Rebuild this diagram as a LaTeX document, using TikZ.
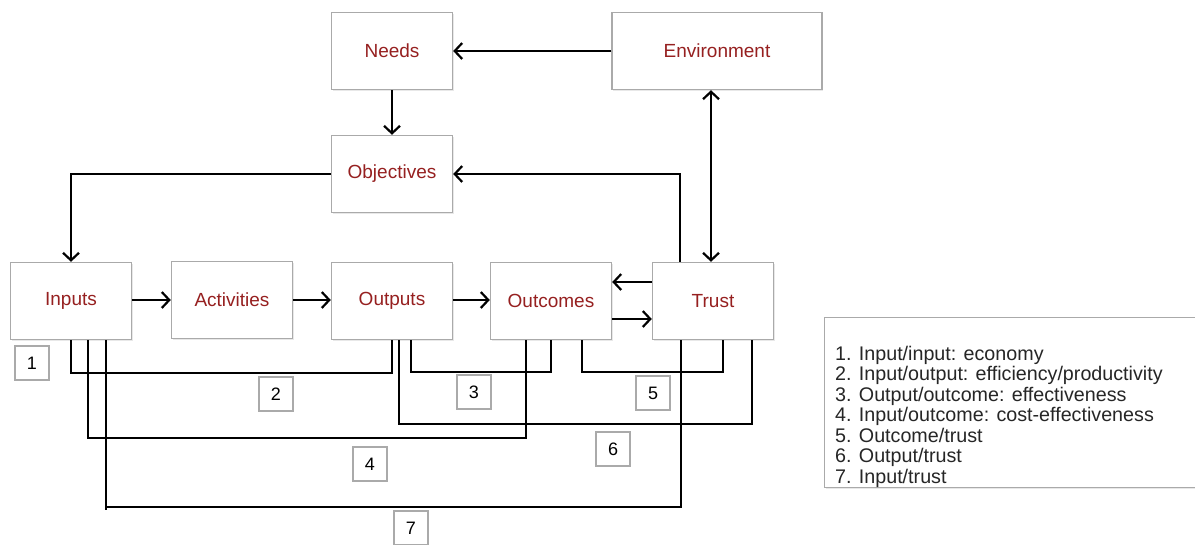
\documentclass[tikz,border=0pt]{standalone}
\usepackage{fontspec}
\setmainfont{Liberation Sans}
\usetikzlibrary{arrows.meta,shadows}
\definecolor{labelred}{RGB}{150,32,32}
\definecolor{boxgray}{RGB}{170,170,170}
\begin{document}
\begin{tikzpicture}[x=1pt,y=-1pt,
  box/.style={draw=boxgray,line width=1.4pt,fill=white,minimum width=121pt,minimum height=77pt,
    text=labelred,font=\fontsize{19}{21}\selectfont,
    drop shadow={shadow xshift=1pt,shadow yshift=-1.5pt,opacity=0.18}},
  numbox/.style={draw=boxgray,line width=1.2pt,fill=white,minimum width=34pt,minimum height=34pt,
    inner sep=0pt,font=\fontsize{18}{20}\selectfont},
  link/.style={line width=1.8pt,black},
  barb/.style={Straight Barb[length=7.5pt,width=16pt,line width=2.2pt]},
  arr/.style={link,-{Straight Barb[length=7.5pt,width=16pt,line width=2.2pt]}},
  twoarr/.style={link,{Straight Barb[length=7.5pt,width=16pt,line width=2.2pt]}-{Straight Barb[length=7.5pt,width=16pt,line width=2.2pt]}}]
\useasboundingbox (0,0) rectangle (1195,544);

% main boxes
\node[box] (needs)    at (392,51)  {Needs};
\node[box,minimum width=210pt] (env) at (717,51) {Environment};
\node[box] (obj)      at (392,174) {Objectives};
\node[box] (inputs)   at (71,301)  {Inputs};
\node[box] (act)      at (232,300) {Activities};
\node[box] (outputs)  at (392,301) {Outputs};
\node[box] (outcomes) at (551,301) {Outcomes};
\node[box] (trust)    at (713,301) {Trust};

% flow arrows
\draw[arr] (env.west) -- (needs.east);
\draw[arr] (needs.south) -- (obj.north);
\draw[arr] (obj.west) -| (inputs.north);
\coordinate (tfb) at ([xshift=-33pt]trust.north);
\draw[arr] (tfb) |- (obj.east);
\coordinate (tenv) at ([xshift=-2pt]trust.north);
\draw[twoarr] (tenv) -- (tenv |- env.south);
\draw[arr] (inputs.east |- act.east) -- (act.west);
\draw[arr] (act.east) -- (outputs.west |- act.east);
\draw[arr] (outputs.east |- act.east) -- (outcomes.west |- act.east);
\coordinate (tback) at ([yshift=19pt]trust.west);
\draw[arr] (tback) -- (outcomes.east |- tback);
\coordinate (ofwd) at ([yshift=-18pt]outcomes.east);
\draw[arr] (ofwd) -- (trust.west |- ofwd);

% ratio brackets
\coordinate (in2) at (inputs.south);
\coordinate (in4) at ([xshift=17pt]inputs.south);
\coordinate (in7) at ([xshift=35pt]inputs.south);
\coordinate (out2) at (outputs.south);
\coordinate (out3) at ([xshift=19pt]outputs.south);
\coordinate (out6) at ([xshift=7pt]outputs.south);
\coordinate (oc3) at (outcomes.south);
\coordinate (oc4) at ([xshift=-25pt]outcomes.south);
\coordinate (oc5) at ([xshift=31pt]outcomes.south);
\coordinate (tr5) at ([xshift=10pt]trust.south);
\coordinate (tr6) at ([xshift=39pt]trust.south);
\coordinate (tr7) at ([xshift=-32pt]trust.south);

\draw[link] (in2) |- (0,373 -| out2) -- (out2);
\draw[link] (in4) |- (0,438 -| oc4) -- (oc4);
\draw[link] (in7) -- ([yshift=-3pt]in7 |- 0,507) (in7 |- 0,507) -| (tr7);
\draw[link] (out3) |- (0,372 -| oc3) -- (oc3);
\draw[link] (out6) |- (0,424 -| tr6) -- (tr6);
\draw[link] (oc5) |- (0,372 -| tr5) -- (tr5);

% ratio numbers
\node[numbox] (n1) at (32,363)  {1};
\node[numbox] (n2) at (276,394) {2};
\node[numbox] (n3) at (474,392) {3};
\node[numbox] (n4) at (370,464) {4};
\node[numbox] (n5) at (653,393) {5};
\node[numbox] (n6) at (613,449) {6};
\node[numbox] (n7) at (411,528) {7};

% legend
\node[draw=boxgray,line width=1.4pt,fill=white,anchor=north west,minimum width=390pt,minimum height=170pt,
  drop shadow={shadow xshift=1pt,shadow yshift=-1.5pt,opacity=0.18}] (legend) at (824,317) {};
\node[anchor=north west,align=left,inner sep=0pt,text=black!85,font=\fontsize{19.7}{20.5}\selectfont] (legtext) at (835,346)
  {1. Input/input: economy\\
   2. Input/output: efficiency/productivity\\
   3. Output/outcome: effectiveness\\
   4. Input/outcome: cost-effectiveness\\
   5. Outcome/trust\\
   6. Output/trust\\
   7. Input/trust};
\end{tikzpicture}
\end{document}
